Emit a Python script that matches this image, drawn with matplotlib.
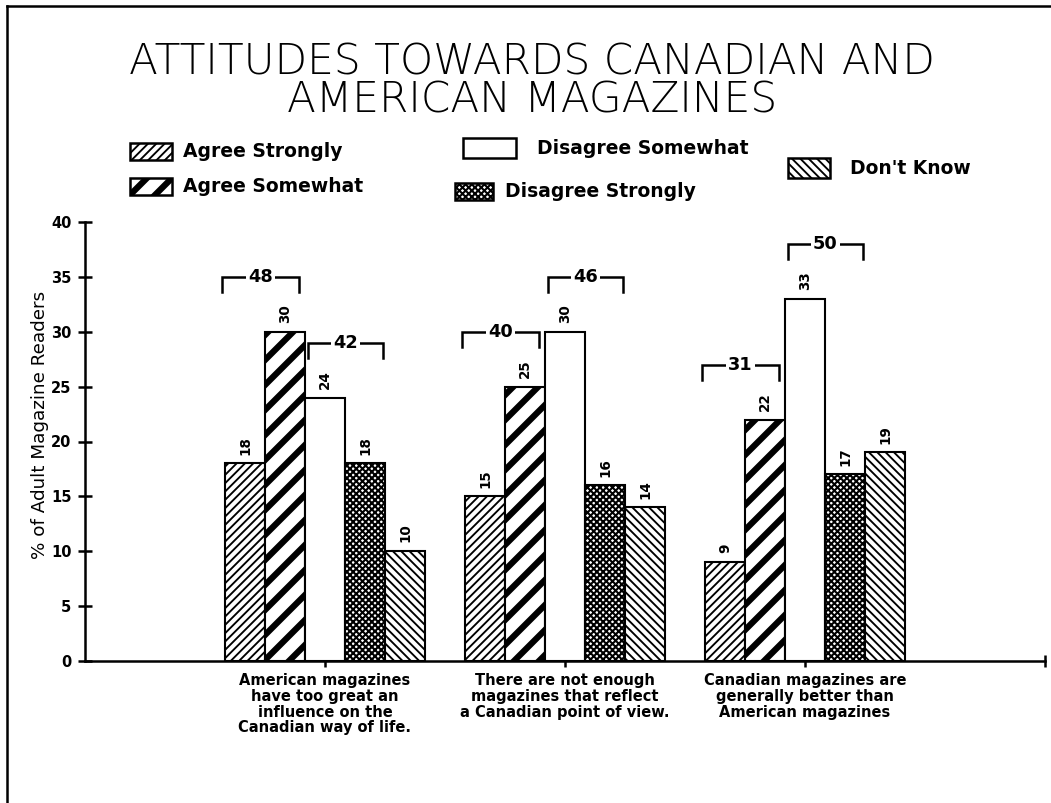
import matplotlib
matplotlib.use("Agg")
import matplotlib.pyplot as plt
import numpy as np
from matplotlib.patches import Rectangle
from matplotlib.lines import Line2D

# survey answers, % of adult magazine readers
statements = [
    "American magazines\nhave too great an\ninfluence on the\nCanadian way of life.",
    "There are not enough\nmagazines that reflect\na Canadian point of view.",
    "Canadian magazines are\ngenerally better than\nAmerican magazines",
]
responses = ["Agree Strongly", "Agree Somewhat", "Disagree Somewhat",
             "Disagree Strongly", "Don't Know"]
agree_strongly = [18, 15, 9]
agree_somewhat = [30, 25, 22]
disagree_somewhat = [24, 30, 33]
disagree_strongly = [18, 16, 17]
dont_know = [10, 14, 19]
yticks = [0, 5, 10, 15, 20, 25, 30, 35, 40]

# fill style per response: (hatch, hatch linewidth)
styles = [("//////", 0.9), ("//", 3.0), ("", 1.0), ("xxxxxxxx", 1.0), ("\\\\\\\\\\\\", 0.9)]

W, H, DPI = 1051, 803, 150
fig = plt.figure(figsize=(W / DPI, H / DPI), dpi=DPI)
ax = fig.add_axes([85 / W, 1 - 661 / H, 960 / W, 439 / H])


def hatched(patch_fn, hatch, hlw, **kw):
    with plt.rc_context({"hatch.linewidth": hlw, "hatch.color": "black"}):
        p = patch_fn(hatch=hatch, **kw)
    items = p.patches if hasattr(p, "patches") else [p]
    for it in items:
        if hasattr(it, "set_hatch_linewidth"):
            it.set_hatch_linewidth(hlw)
    return p


series = [agree_strongly, agree_somewhat, disagree_somewhat, disagree_strongly, dont_know]
x = np.arange(len(statements))
bw = 1 / 6
for i, vals in enumerate(series):
    xs = x + (i - 2) * bw
    hatch, hlw = styles[i]
    hatched(lambda **kw: ax.bar(xs, vals, bw, **kw), hatch, hlw,
            facecolor="white", edgecolor="black", linewidth=1.0, zorder=3)
    for xi, v in zip(xs, vals):
        ax.text(xi, v + 0.8, str(v), rotation=90, ha="center", va="bottom",
                fontsize=6.5, fontweight="bold", zorder=4)

# brackets summing agree and disagree pairs
def bracket(x0, x1, top, total):
    ax.plot([x0, x0, x1, x1], [top - 1.4, top, top, top - 1.4],
            color="black", lw=1.2, zorder=4, solid_joinstyle="miter")
    ax.text((x0 + x1) / 2, top, str(total), ha="center", va="center",
            fontsize=8.5, fontweight="bold", zorder=5,
            bbox=dict(facecolor="white", edgecolor="none", pad=1.0))

for g in range(len(statements)):
    a0, a1 = agree_strongly[g], agree_somewhat[g]
    d0, d1 = disagree_somewhat[g], disagree_strongly[g]
    bracket(g - 2.5 * bw - 0.012, g - 0.5 * bw - 0.025, max(a0, a1) + 5, a0 + a1)
    bracket(g - 0.5 * bw + 0.012, g + 1.5 * bw - 0.01, max(d0, d1) + 5, d0 + d1)

ax.set_xlim(-1, 3)
ax.set_ylim(0, 40)
ax.set_yticks(yticks)
ax.set_yticklabels([str(t) for t in yticks], fontsize=7, fontweight="bold")
ax.set_xticks([0, 1, 2, 3])
ax.set_xticklabels(statements + [""], fontsize=7, fontweight="bold",
                   linespacing=1.05)
ax.tick_params(axis="both", direction="inout", length=7, width=1.2, pad=3)
ax.tick_params(axis="x", length=6)
for s in ["top", "right"]:
    ax.spines[s].set_visible(False)
for s in ["left", "bottom"]:
    ax.spines[s].set_linewidth(1.2)

fig.text(40 / W, 1 - 425 / H, "% of Adult Magazine Readers", rotation=90,
         ha="center", va="center", fontsize=8.8)

fig.text(532 / W, 1 - 81 / H, "ATTITUDES TOWARDS CANADIAN AND\nAMERICAN MAGAZINES",
         ha="center", va="center", ma="center", fontsize=20.3, linespacing=0.92,
         fontweight="light")

# legend keys: (left, top, right, bottom) in pixels, label x
legend_boxes = [(130, 143, 172, 160, 183), (130, 178, 172, 195, 183),
                (463, 138, 516, 158, 537), (455, 183, 493, 200, 505),
                (788, 158, 830, 178, 850)]
for (l, t, r, b, tx), name, (hatch, hlw) in zip(legend_boxes, responses, styles):
    hatched(lambda **kw: fig.add_artist(Rectangle((l / W, 1 - b / H), (r - l) / W, (b - t) / H,
                                                  transform=fig.transFigure, **kw)),
            hatch, hlw, facecolor="white", edgecolor="black", linewidth=1.2)
    fig.text(tx / W, 1 - (t + b) / 2 / H, name, ha="left", va="center",
             fontsize=9, fontweight="bold")

# page border
fig.add_artist(Line2D([7 / W, 1], [1 - 6 / H, 1 - 6 / H], color="black", lw=1.2,
                      transform=fig.transFigure))
fig.add_artist(Line2D([7 / W, 7 / W], [0, 1 - 6 / H], color="black", lw=1.2,
                      transform=fig.transFigure))

fig.savefig("out.png", dpi=DPI)
